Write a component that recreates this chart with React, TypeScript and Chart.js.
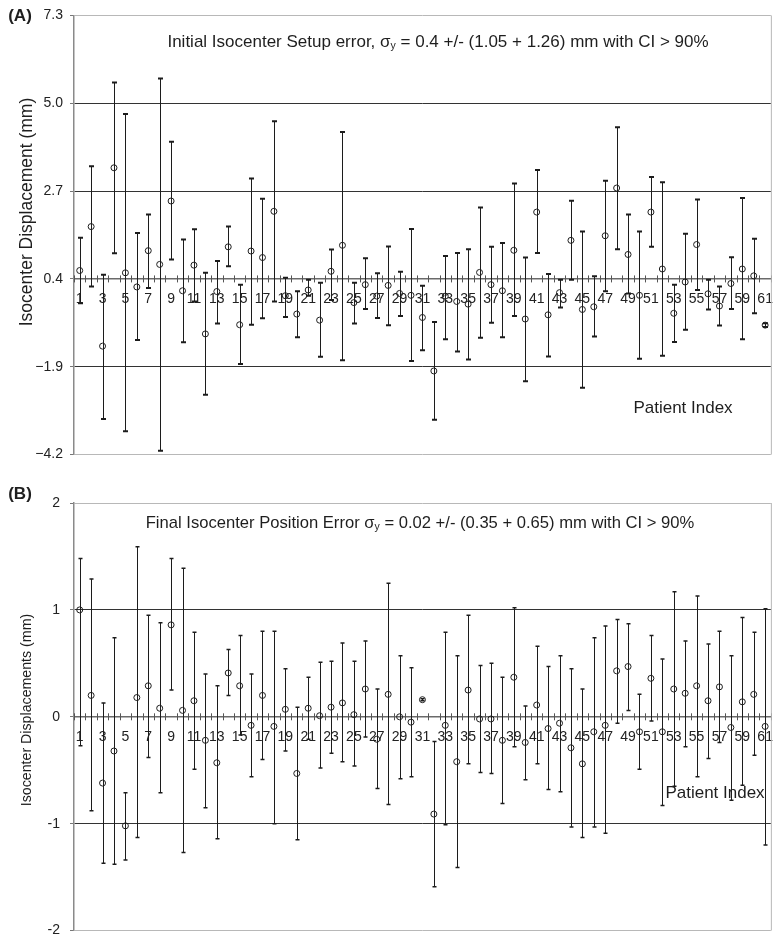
import React, { useEffect, useRef } from 'react';
import { Chart, registerables } from 'chart.js';
Chart.register(...registerables);

const FONT = '"Liberation Sans", Arial, sans-serif';

const patients = ['1','2','3','4','5','6','7','8','9','10','11','12','13','14','15','16','17','18','19','20','21','22','23','24','25','26','27','28','29','30','31','32','33','34','35','36','37','38','39','40','41','42','43','44','45','46','47','48','49','50','51','52','53','54','55','56','57','58','59','60','61'];

// Panel A: initial isocenter setup error (mm)
const meanA = [0.62,1.77,-1.36,3.31,0.56,0.19,1.14,0.78,2.44,0.09,0.76,-1.04,0.07,1.24,-0.80,1.13,0.96,2.17,-0.04,-0.52,0.11,-0.68,0.60,1.28,-0.22,0.25,-0.05,0.23,0.02,-0.03,-0.61,-2.01,-0.05,-0.19,-0.26,0.57,0.25,0.09,1.15,-0.65,2.15,-0.54,0.04,1.41,-0.40,-0.33,1.53,2.78,1.04,-0.03,2.15,0.66,-0.50,0.32,1.30,0.01,-0.31,0.28,0.66,0.48,-0.81];
const highA = [1.48,3.35,0.51,5.54,4.72,1.60,2.09,5.65,3.99,1.43,1.70,0.56,0.87,1.77,0.25,3.03,2.50,4.53,0.43,0.08,0.38,0.30,1.17,4.25,0.30,0.94,0.55,1.25,0.59,1.71,0.22,-0.73,1.00,1.08,1.18,2.27,1.24,1.34,2.90,0.96,3.25,0.53,0.38,2.45,1.64,0.47,2.97,4.37,2.09,1.64,3.07,2.93,0.25,1.58,2.48,0.38,0.20,0.97,2.52,1.45,-0.76];
const lowA = [-0.24,0.20,-3.27,1.07,-3.59,-1.20,0.16,-4.10,0.91,-1.26,-0.19,-2.63,-0.77,0.73,-1.83,-0.80,-0.63,-0.19,-0.60,-1.13,-0.04,-1.64,-0.15,-1.73,-0.77,-0.39,-0.62,-0.81,-0.57,-1.75,-1.47,-3.29,-1.18,-1.50,-1.71,-1.14,-0.75,-1.13,-0.57,-2.28,1.08,-1.63,-0.35,0.38,-2.45,-1.11,0.08,1.18,0.02,-1.69,1.24,-1.61,-1.25,-0.93,0.11,-0.40,-0.82,-0.39,-1.18,-0.50,-0.86];
const yTicksA = [-4.2, -1.9, 0.4, 2.7, 5.0, 7.3];

// Panel B: final isocenter position error (mm)
const meanB = [1.00,0.20,-0.62,-0.32,-1.02,0.18,0.29,0.08,0.86,0.06,0.15,-0.22,-0.43,0.41,0.29,-0.08,0.20,-0.09,0.07,-0.53,0.08,0.01,0.09,0.13,0.02,0.26,-0.21,0.21,0.00,-0.05,0.16,-0.91,-0.08,-0.42,0.25,-0.02,-0.02,-0.22,0.37,-0.24,0.11,-0.11,-0.06,-0.29,-0.44,-0.14,-0.08,0.43,0.47,-0.14,0.36,-0.14,0.26,0.22,0.29,0.15,0.28,-0.10,0.14,0.21,-0.09];
const highB = [1.48,1.29,0.13,0.74,-0.71,1.59,0.95,0.88,1.48,1.39,0.79,0.40,0.29,0.63,0.76,0.40,0.80,0.80,0.45,0.09,0.37,0.51,0.52,0.69,0.52,0.71,0.26,1.25,0.57,0.46,0.17,-0.23,0.79,0.57,0.95,0.48,0.50,0.37,1.02,0.10,0.66,0.47,0.57,0.45,0.26,0.74,0.85,0.91,0.87,0.21,0.76,0.54,1.17,0.71,1.13,0.68,0.80,0.57,0.93,0.79,1.01];
const lowB = [-0.27,-0.88,-1.37,-1.38,-1.34,-1.13,-0.38,-0.71,0.25,-1.27,-0.49,-0.85,-1.14,0.20,-0.17,-0.56,-0.40,-1.00,-0.32,-1.15,-0.21,-0.48,-0.34,-0.42,-0.46,-0.19,-0.67,-0.82,-0.58,-0.56,0.15,-1.59,-1.01,-1.41,-0.44,-0.52,-0.53,-0.81,-0.28,-0.59,-0.44,-0.68,-0.70,-1.03,-1.13,-1.03,-1.09,-0.06,0.06,-0.49,-0.04,-0.83,-0.65,-0.28,-0.56,-0.39,-0.24,-0.78,-0.64,-0.36,-1.20];
const yTicksB = [-2, -1, 0, 1, 2];

type Part = { t: string; size: number; dy: number; bold?: boolean };

function drawRich(ctx: CanvasRenderingContext2D, parts: Part[], cx: number, cy: number) {
  const widths = parts.map(p => {
    ctx.font = `${p.bold ? 'bold ' : ''}${p.size}px ${FONT}`;
    return ctx.measureText(p.t).width;
  });
  const total = widths.reduce((a, b) => a + b, 0);
  let x = cx - total / 2;
  parts.forEach((p, i) => {
    ctx.font = `${p.bold ? 'bold ' : ''}${p.size}px ${FONT}`;
    ctx.fillText(p.t, x, cy + p.dy);
    x += widths[i];
  });
}

const errorBarPlugin = {
  id: 'errorBars',
  beforeDatasetsDraw(chart: any, _args: any, opts: any) {
    const { ctx } = chart;
    const xs = chart.scales.x, ys = chart.scales.y;
    const low: number[] = opts.low, high: number[] = opts.high;
    ctx.save();
    ctx.strokeStyle = '#1c1c1c';
    low.forEach((lo, i) => {
      const x = Math.round(xs.getPixelForValue(i)) + 0.5;
      const yl = ys.getPixelForValue(lo);
      const yh = ys.getPixelForValue(high[i]);
      ctx.lineWidth = 1;
      ctx.beginPath();
      ctx.moveTo(x, yh);
      ctx.lineTo(x, yl);
      ctx.stroke();
      ctx.lineWidth = opts.capWidth;
      ctx.beginPath();
      ctx.moveTo(x - opts.cap, yh);
      ctx.lineTo(x + opts.cap, yh);
      ctx.moveTo(x - opts.cap, yl);
      ctx.lineTo(x + opts.cap, yl);
      ctx.stroke();
    });
    // x tick marks crossing the axis line
    const ay = ys.getPixelForValue(opts.axisAt);
    ctx.strokeStyle = '#555';
    ctx.lineWidth = 1;
    ctx.beginPath();
    for (let i = 0; i <= patients.length; i++) {
      const x = Math.round(xs.getPixelForValue(i - 0.5)) + 0.5;
      ctx.moveTo(x, ay - 3.5);
      ctx.lineTo(x, ay + 3.5);
    }
    ctx.stroke();
    // right border of frame
    const { chartArea } = chart;
    ctx.strokeStyle = '#b8b8b8';
    ctx.beginPath();
    ctx.moveTo(chartArea.right + 0.5, chartArea.top);
    ctx.lineTo(chartArea.right + 0.5, chartArea.bottom);
    ctx.stroke();
    ctx.restore();
  },
  afterDraw(chart: any, _args: any, opts: any) {
    const { ctx } = chart;
    ctx.save();
    ctx.fillStyle = '#1e1e1e';
    ctx.textBaseline = 'middle';
    drawRich(ctx, [{ t: opts.panel, size: 17, dy: 0, bold: true }], opts.panelX, opts.panelY);
    drawRich(ctx, opts.title, opts.titleX, opts.titleY);
    drawRich(ctx, [{ t: 'Patient Index', size: opts.piSize, dy: 0 }], opts.piX, opts.piY);
    ctx.translate(opts.ytX, opts.ytY);
    ctx.rotate(-Math.PI / 2);
    drawRich(ctx, [{ t: opts.yTitle, size: opts.ytSize, dy: 0 }], 0, 0);
    ctx.restore();
  },
};

function makeConfig(mean: number[], low: number[], high: number[], ticks: number[], axisAt: number, fmt: (v: number) => string, deco: any, padding: any, cap: number, capWidth: number, yPad: number) {
  const minV = ticks[0], maxV = ticks[ticks.length - 1];
  return {
    type: 'line',
    data: {
      labels: patients,
      datasets: [{
        data: mean,
        showLine: false,
        pointRadius: 3,
        pointHoverRadius: 3,
        pointBorderWidth: 1,
        pointBorderColor: '#1e1e1e',
        pointBackgroundColor: 'rgba(0,0,0,0)',
      }],
    },
    options: {
      responsive: false,
      animation: false,
      events: [],
      layout: { padding },
      plugins: {
        legend: { display: false },
        tooltip: { enabled: false },
        title: { display: false },
        errorBars: { low, high, axisAt, cap, capWidth, ...deco },
      },
      scales: {
        x: {
          type: 'category',
          offset: true,
          position: { y: axisAt },
          grid: { display: false, drawTicks: true, tickLength: 6, offset: true },
          border: { display: true, color: '#6a6a6a', width: 1.5 },
          ticks: {
            autoSkip: false,
            maxRotation: 0,
            minRotation: 0,
            padding: 6,
            color: '#222',
            font: { family: FONT, size: 14 },
            callback: (_v: any, i: number) => (i % 2 === 0 ? patients[i] : ''),
          },
        },
        y: {
          type: 'linear',
          min: minV,
          max: maxV,
          afterFit: (s: any) => { s.width = 74; },
          afterBuildTicks: (s: any) => { s.ticks = ticks.map(v => ({ value: v })); },
          grid: {
            color: (c: any) => (c.tick && (c.tick.value === minV || c.tick.value === maxV) ? '#b8b8b8' : '#333'),
            lineWidth: 1,
            drawTicks: true,
            tickLength: 4,
            tickColor: '#777',
          },
          border: { display: true, color: '#8a8a8a', width: 1.5 },
          ticks: {
            padding: yPad,
            color: '#222',
            font: { family: FONT, size: 14 },
            callback: (v: number) => fmt(v),
          },
        },
      },
    },
    plugins: [errorBarPlugin],
  } as any;
}

function Panel(props: { height: number; config: any }) {
  const ref = useRef<HTMLCanvasElement>(null);
  useEffect(() => {
    const chart = new Chart(ref.current as HTMLCanvasElement, props.config);
    return () => chart.destroy();
  }, []);
  return <canvas ref={ref} width={779} height={props.height} style={{ display: 'block' }} />;
}

const fmtA = (v: number) => (v < 0 ? '\u2212' : '') + Math.abs(v).toFixed(1);
const fmtB = (v: number) => String(v);

const configA = makeConfig(meanA, lowA, highA, yTicksA, 0.4, fmtA, {
  panel: '(A)', panelX: 20, panelY: 16,
  title: [
    { t: 'Initial Isocenter Setup error, \u03c3', size: 17, dy: 0 },
    { t: 'y', size: 10.5, dy: 4 },
    { t: ' = 0.4 +/- (1.05 + 1.26) mm with CI > 90%', size: 17, dy: 0 },
  ],
  titleX: 438, titleY: 42,
  piX: 683, piY: 408, piSize: 17,
  yTitle: 'Isocenter Displacement (mm)', ytX: 27, ytY: 212, ytSize: 17.5,
}, { left: 0, right: 8, top: 12, bottom: 9 }, 2.5, 2, 7);

const configB = makeConfig(meanB, lowB, highB, yTicksB, 0, fmtB, {
  panel: '(B)', panelX: 20, panelY: 24,
  title: [
    { t: 'Final Isocenter Position Error \u03c3', size: 16.6, dy: 0 },
    { t: 'y', size: 10.5, dy: 4 },
    { t: ' = 0.02 +/- (0.35 + 0.65) mm with CI > 90%', size: 16.6, dy: 0 },
  ],
  titleX: 420, titleY: 53,
  piX: 715, piY: 323, piSize: 17,
  yTitle: 'Isocenter Displacements (mm)', ytX: 27, ytY: 240, ytSize: 14.2,
}, { left: 0, right: 8, top: 33, bottom: 11 }, 2, 1.5, 10);

export default function App() {
  return (
    <div style={{ position: 'absolute', left: 0, top: 0, width: 779, height: 949, background: '#fff' }}>
      <Panel height={470} config={configA} />
      <Panel height={479} config={configB} />
    </div>
  );
}
